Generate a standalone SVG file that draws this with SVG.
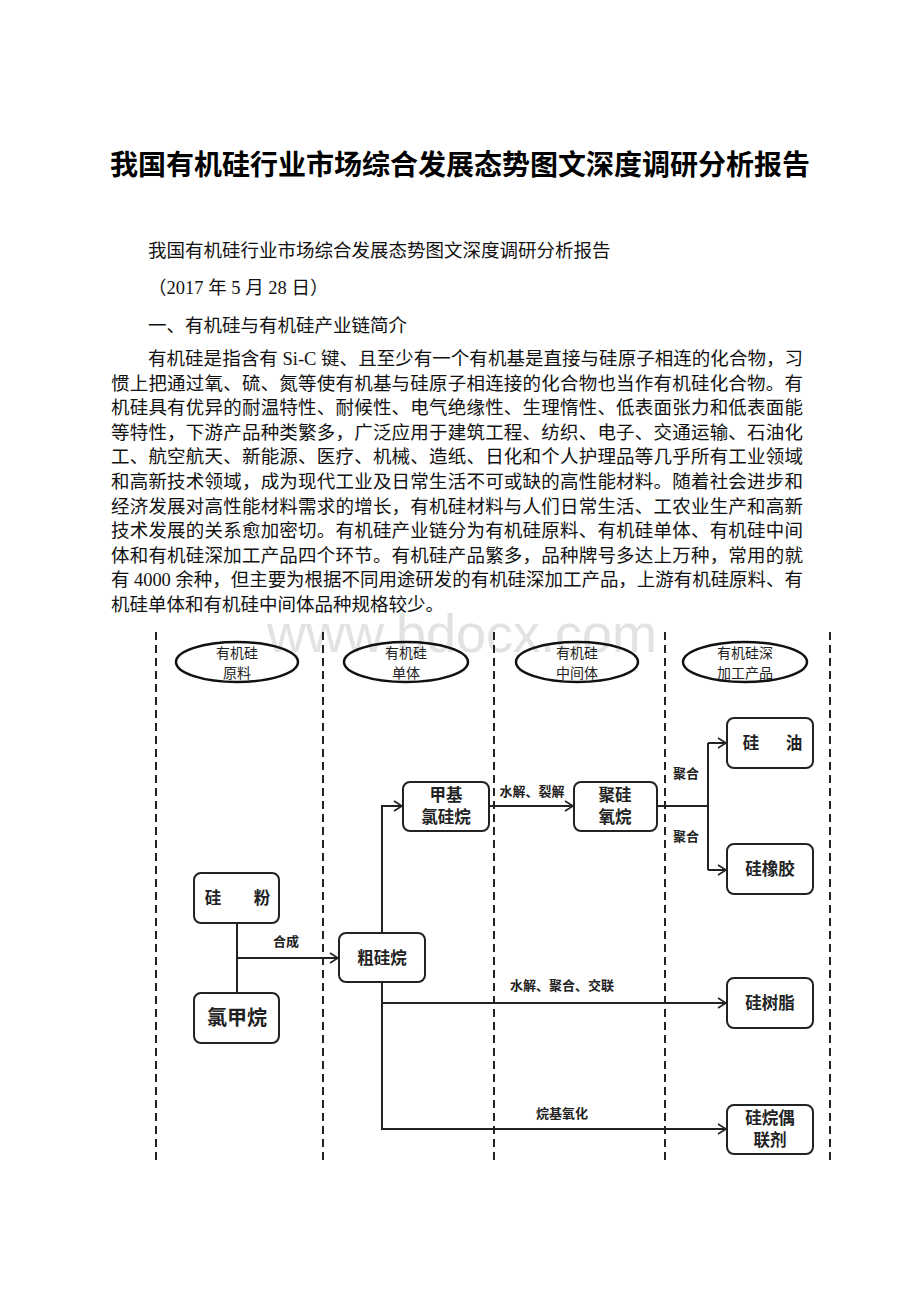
<svg xmlns="http://www.w3.org/2000/svg" width="920" height="1302" viewBox="0 0 920 1302">
<style>
.title{font-family:"Noto Sans CJK SC",sans-serif;font-size:28px;font-weight:bold;fill:#000}
.body{font-family:"Liberation Serif","Noto Sans CJK SC",serif;font-size:18.5px;fill:#111}
.wm{font-family:"Liberation Sans",sans-serif;font-size:54px;fill:#e2e2e2}
.lane{stroke:#222;stroke-width:2;stroke-dasharray:8 5;fill:none}
.ell{fill:none;stroke:#111;stroke-width:2.5}
.etx{font-family:"Noto Sans CJK SC",sans-serif;font-size:14px;fill:#222;text-anchor:middle}
.box{fill:#fff;stroke:#222;stroke-width:2}
.btx{font-family:"Noto Sans CJK SC",sans-serif;font-size:16.5px;font-weight:bold;fill:#222;text-anchor:middle}
.conn{stroke:#222;stroke-width:2;fill:none}
.lbl{font-family:"Noto Sans CJK SC",sans-serif;font-size:13px;font-weight:bold;fill:#222;text-anchor:middle}
</style>
<defs>
<marker id="arr" markerWidth="12" markerHeight="12" refX="10" refY="6" orient="auto" markerUnits="userSpaceOnUse">
<polyline points="2,1 10,6 2,11" fill="none" stroke="#222" stroke-width="1.6"/>
</marker>
</defs>
<rect width="920" height="1302" fill="#fff"/>
<text class="title" x="460" y="175" text-anchor="middle">我国有机硅行业市场综合发展态势图文深度调研分析报告</text>
<g id="article">
<text class="body" x="148" y="257">我国有机硅行业市场综合发展态势图文深度调研分析报告</text>
<text class="body" x="148" y="294">（2017 年 5 月 28 日）</text>
<text class="body" x="148" y="332">一、有机硅与有机硅产业链简介</text>
<text class="body" x="148" y="365" textLength="655" lengthAdjust="spacing">有机硅是指含有 Si-C 键、且至少有一个有机基是直接与硅原子相连的化合物，习</text>
<text class="body" x="111" y="389.6" textLength="692" lengthAdjust="spacing">惯上把通过氧、硫、氮等使有机基与硅原子相连接的化合物也当作有机硅化合物。有</text>
<text class="body" x="111" y="414.2" textLength="692" lengthAdjust="spacing">机硅具有优异的耐温特性、耐候性、电气绝缘性、生理惰性、低表面张力和低表面能</text>
<text class="body" x="111" y="438.8" textLength="692" lengthAdjust="spacing">等特性，下游产品种类繁多，广泛应用于建筑工程、纺织、电子、交通运输、石油化</text>
<text class="body" x="111" y="463.4" textLength="692" lengthAdjust="spacing">工、航空航天、新能源、医疗、机械、造纸、日化和个人护理品等几乎所有工业领域</text>
<text class="body" x="111" y="488" textLength="692" lengthAdjust="spacing">和高新技术领域，成为现代工业及日常生活不可或缺的高性能材料。随着社会进步和</text>
<text class="body" x="111" y="512.6" textLength="692" lengthAdjust="spacing">经济发展对高性能材料需求的增长，有机硅材料与人们日常生活、工农业生产和高新</text>
<text class="body" x="111" y="537.2" textLength="692" lengthAdjust="spacing">技术发展的关系愈加密切。有机硅产业链分为有机硅原料、有机硅单体、有机硅中间</text>
<text class="body" x="111" y="561.8" textLength="692" lengthAdjust="spacing">体和有机硅深加工产品四个环节。有机硅产品繁多，品种牌号多达上万种，常用的就</text>
<text class="body" x="111" y="586.4" textLength="692" lengthAdjust="spacing">有 4000 余种，但主要为根据不同用途研发的有机硅深加工产品，上游有机硅原料、有</text>
<text class="body" x="111" y="611">机硅单体和有机硅中间体品种规格较少。</text>
</g>
<text class="wm" x="462" y="652" text-anchor="middle">www.bdocx.com</text>
<g id="lanes">
<line class="lane" x1="156" y1="632" x2="156" y2="1162"/>
<line class="lane" x1="323" y1="632" x2="323" y2="1162"/>
<line class="lane" x1="494" y1="632" x2="494" y2="1162"/>
<line class="lane" x1="665" y1="632" x2="665" y2="1162"/>
<line class="lane" x1="830" y1="632" x2="830" y2="1162"/>
</g>
<g id="h-raw"><ellipse class="ell" cx="237" cy="662" rx="61" ry="20"/><text class="etx" x="237" y="658">有机硅</text><text class="etx" x="237" y="678">原料</text></g>
<g id="h-mono"><ellipse class="ell" cx="406" cy="662" rx="62" ry="20"/><text class="etx" x="406" y="658">有机硅</text><text class="etx" x="406" y="678">单体</text></g>
<g id="h-mid"><ellipse class="ell" cx="577" cy="662" rx="61" ry="20"/><text class="etx" x="577" y="658">有机硅</text><text class="etx" x="577" y="678">中间体</text></g>
<g id="h-deep"><ellipse class="ell" cx="745" cy="662" rx="62" ry="20"/><text class="etx" x="745" y="658">有机硅深</text><text class="etx" x="745" y="678">加工产品</text></g>
<g id="connectors">
<polyline class="conn" points="237,923 237,993"/>
<line class="conn" x1="237" y1="958" x2="338" y2="958" marker-end="url(#arr)"/>
<polyline class="conn" points="382,933 382,806 402,806" marker-end="url(#arr)"/>
<polyline class="conn" points="382,982 382,1129 726,1129" marker-end="url(#arr)"/>
<line class="conn" x1="382" y1="1003" x2="726" y2="1003" marker-end="url(#arr)"/>
<line class="conn" x1="489" y1="806" x2="573" y2="806" marker-end="url(#arr)"/>
<line class="conn" x1="657" y1="806" x2="708" y2="806"/>
<polyline class="conn" points="708,743 708,870"/>
<line class="conn" x1="708" y1="743" x2="726" y2="743" marker-end="url(#arr)"/>
<line class="conn" x1="708" y1="870" x2="726" y2="870" marker-end="url(#arr)"/>
<text class="lbl" x="286" y="946">合成</text>
<text class="lbl" x="532" y="796">水解、裂解</text>
<text class="lbl" x="686" y="778">聚合</text>
<text class="lbl" x="686" y="841">聚合</text>
<text class="lbl" x="562" y="990">水解、聚合、交联</text>
<text class="lbl" x="562" y="1118">烷基氧化</text>
</g>
<g id="n-gf"><rect class="box" x="194" y="873" width="85" height="50" rx="7"/><text class="btx" x="213" y="904">硅</text><text class="btx" x="262" y="904">粉</text></g>
<g id="n-lj"><rect class="box" x="194" y="993" width="85" height="50" rx="7"/><text class="btx" x="237" y="1025" style="font-size:20px">氯甲烷</text></g>
<g id="n-cgw"><rect class="box" x="339" y="933" width="86" height="49" rx="7"/><text class="btx" x="382" y="964">粗硅烷</text></g>
<g id="n-jj"><rect class="box" x="403" y="782" width="86" height="49" rx="7"/><text class="btx" x="446" y="801">甲基</text><text class="btx" x="446" y="823">氯硅烷</text></g>
<g id="n-jgy"><rect class="box" x="574" y="782" width="83" height="49" rx="7"/><text class="btx" x="615" y="801">聚硅</text><text class="btx" x="615" y="823">氧烷</text></g>
<g id="n-gy"><rect class="box" x="727" y="718" width="86" height="50" rx="7"/><text class="btx" x="751" y="749">硅</text><text class="btx" x="794" y="749">油</text></g>
<g id="n-gxj"><rect class="box" x="727" y="844" width="86" height="50" rx="7"/><text class="btx" x="770" y="875">硅橡胶</text></g>
<g id="n-gsz"><rect class="box" x="727" y="978" width="86" height="50" rx="7"/><text class="btx" x="770" y="1009">硅树脂</text></g>
<g id="n-gwo"><rect class="box" x="727" y="1105" width="86" height="49" rx="7"/><text class="btx" x="770" y="1124">硅烷偶</text><text class="btx" x="770" y="1146">联剂</text></g>
</svg>
